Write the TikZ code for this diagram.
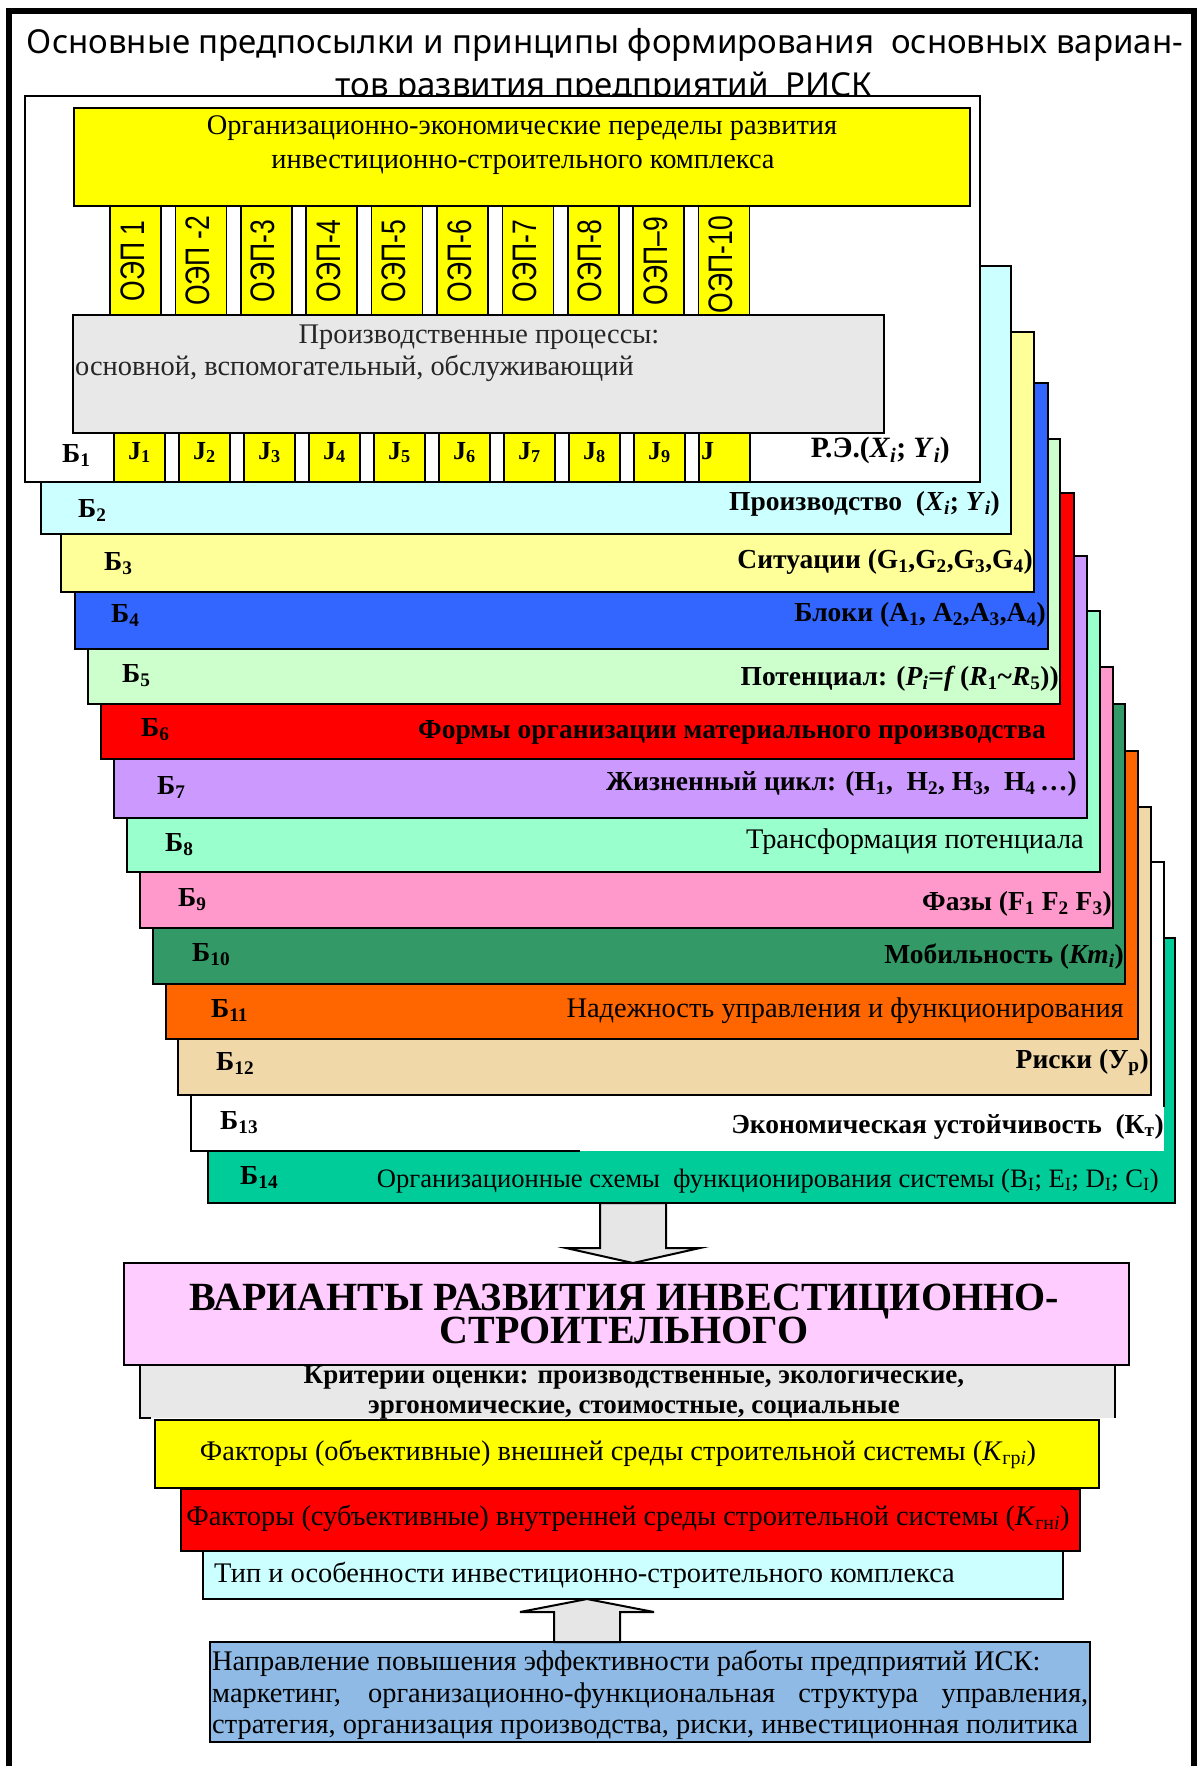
\documentclass[tikz,border=0pt]{standalone}
\usepackage{fontspec}
\setmainfont{Liberation Serif}
\newfontfamily\titlefont{Noto Sans}
\newfontfamily\stripfont[FakeStretch=0.78]{Liberation Sans}
\usetikzlibrary{calc}

\definecolor{hdrYellow}{HTML}{FFFF00}
\definecolor{procGrey}{HTML}{E8E8E8}
\definecolor{cB2}{HTML}{CCFFFF}
\definecolor{cB3}{HTML}{FFFF99}
\definecolor{cB4}{HTML}{3366FF}
\definecolor{cB5}{HTML}{CCFFCC}
\definecolor{cB6}{HTML}{FF0000}
\definecolor{cB7}{HTML}{CC99FF}
\definecolor{cB8}{HTML}{99FFCC}
\definecolor{cB9}{HTML}{FF99CC}
\definecolor{cB10}{HTML}{339966}
\definecolor{cB11}{HTML}{FF6600}
\definecolor{cB12}{HTML}{F0D8A8}
\definecolor{cB14}{HTML}{00CC99}
\definecolor{varPink}{HTML}{FFCCFF}
\definecolor{dirBlue}{HTML}{8EBAE5}
\definecolor{arrowGrey}{HTML}{E6E6E6}

\newcommand\subs[1]{\textsubscript{#1}}
% rectangle node given by its left, top, right and bottom edges
\newcommand\barbox[6]{\node[panel, fill=#6, anchor=north west,
  minimum width={#4-#2}, minimum height={#5-#3}] (#1) at (#2,#3) {};}

\begin{document}
\begin{tikzpicture}[x=1pt,y=-1pt,
  panel/.style={draw=black, line width=2pt, inner sep=0pt, outer sep=0pt},
  frame/.style={draw=black, line width=6.5pt},
  titletxt/.style={font=\titlefont\fontsize{33}{40}\selectfont, inner sep=0pt},
  lbl/.style={font=\fontsize{27.5}{31}\selectfont\bfseries, inner sep=0pt},
  txt/.style={font=\fontsize{28.4}{32}\selectfont, inner sep=0pt},
  jtxt/.style={font=\fontsize{26}{30}\selectfont\bfseries, inner sep=0pt},
  striptxt/.style={font=\stripfont\fontsize{34}{40}\selectfont, inner sep=0pt, rotate=90},
  blockarrow/.style={fill=arrowGrey, draw=black, line width=2pt, line join=miter},
]
\useasboundingbox (0,0) rectangle (1201,1766);
\fill[white] (0,0) rectangle (1201,1766);

% outer frame, open at the bottom
\draw[frame] (9,1780) -- (9,11) -- (1194,11) -- (1194,1780);

% heading
\node[titletxt, anchor=base] (title1) at (605,54) {Основные предпосылки и принципы формирования\ \ основных вариан-};
\node[titletxt, anchor=base] (title2) at (604,97) {тов развития предприятий\ \ РИСК};

% stacked layers, lowest first
\barbox{b14}{208}{938}{1175}{1203}{cB14}
\node[panel, draw=none, fill=white, anchor=north west, minimum width=973, minimum height=289] (b13) at (191,862) {};
\draw[line width=2pt] (580,1151) -- (b13.south west) -- (b13.north west) -- (b13.north east) -- (1164,1107);
\barbox{b12}{178}{807}{1151}{1095}{cB12}
\barbox{b11}{166}{751}{1138}{1039}{cB11}
\barbox{b10}{153}{704}{1125}{984}{cB10}
\barbox{b9}{140}{667}{1113}{928}{cB9}
\barbox{b8}{127}{611}{1100}{872}{cB8}
\barbox{b7}{114}{556}{1087}{818}{cB7}
\barbox{b6}{101}{493}{1074}{759}{cB6}
\barbox{b5}{88}{439}{1060}{704}{cB5}
\barbox{b4}{75}{383}{1048}{649}{cB4}
\barbox{b3}{61}{332}{1034}{592}{cB3}
\barbox{b2}{41}{266}{1011}{534}{cB2}
\barbox{b1}{25}{96}{980}{482}{white}

% layer captions
\node[lbl, anchor=base west] (l2) at (78,517) {Б\subs{2}};
\node[lbl, anchor=base west] (l3) at (104,570) {Б\subs{3}};
\node[lbl, anchor=base west] (l4) at (111,622) {Б\subs{4}};
\node[lbl, anchor=base west] (l5) at (122,682) {Б\subs{5}};
\node[lbl, anchor=base west] (l6) at (141,736) {Б\subs{6}};
\node[lbl, anchor=base west] (l7) at (157,794) {Б\subs{7}};
\node[lbl, anchor=base west] (l8) at (165,851) {Б\subs{8}};
\node[lbl, anchor=base west] (l9) at (178,906) {Б\subs{9}};
\node[lbl, anchor=base west] (l10) at (192,961) {Б\subs{10}};
\node[lbl, anchor=base west] (l11) at (211,1017) {Б\subs{11}};
\node[lbl, anchor=base west] (l12) at (216,1070) {Б\subs{12}};
\node[lbl, anchor=base west] (l13) at (220,1129) {Б\subs{13}};
\node[lbl, anchor=base west] (l14) at (240,1184) {Б\subs{14}};

\node[lbl, anchor=base east] (r2) at (1000,510) {Производство\ \ (\textit{X}\subs{\textit{i}}; \textit{Y}\subs{\textit{i}})};
\node[lbl, anchor=base east] (r3) at (1033,568) {Ситуации (G\subs{1},G\subs{2},G\subs{3},G\subs{4})};
\node[lbl, anchor=base east] (r4) at (1046,621) {Блоки (А\subs{1}, А\subs{2},А\subs{3},А\subs{4})};
\node[lbl, anchor=base east] (r5) at (1059,685) {Потенциал: (\textit{P}\subs{\textit{i}}=\textit{f}\,(\textit{R}\subs{1}\textasciitilde\textit{R}\subs{5}))};
\node[lbl, anchor=base east] (r6) at (1046,738) {Формы организации материального производства};
\node[lbl, anchor=base east] (r7) at (1077,790) {Жизненный цикл: (H\subs{1},\ \ H\subs{2}, H\subs{3},\ \ H\subs{4}\,…)};
\node[txt, anchor=base east] (r8) at (1084,848) {Трансформация потенциала};
\node[lbl, anchor=base east] (r9) at (1112,910) {Фазы (F\subs{1} F\subs{2} F\subs{3})};
\node[lbl, anchor=base east] (r10) at (1124,963) {Мобильность (\textit{Km}\subs{\textit{i}})};
\node[txt, anchor=base east] (r11) at (1124,1017) {Надежность управления и функционирования};
\node[lbl, anchor=base east] (r12) at (1149,1068) {Риски (У\subs{р})};
\node[lbl, anchor=base east] (r13) at (1164,1133) {Экономическая устойчивость\ \ (К\subs{т})};
\node[txt, font=\fontsize{26.6}{30}\selectfont, anchor=base east] (r14) at (1159,1187) {Организационные схемы\ \ функционирования системы (B\subs{I}; E\subs{I}; D\subs{I}; C\subs{I})};

% top layer: stages and production processes
\foreach \k/\lab in {0/{ОЭП 1},1/{ОЭП -2},2/{ОЭП-3},3/{ОЭП-4},4/{ОЭП-5},5/{ОЭП-6},6/{ОЭП-7},7/{ОЭП-8},8/{ОЭП–9}}{
  \pgfmathsetmacro\xx{110+65.4*\k}
  \node[panel, line width=1.5pt, fill=hdrYellow, anchor=north west, minimum width=51, minimum height=109] (oep\k) at (\xx,206) {};
  \node[striptxt, anchor=base] (oept\k) at (\xx+34,261) {\lab};
}
\node[panel, line width=1.5pt, fill=hdrYellow, anchor=north west, minimum width=51, minimum height=109] (oep9) at (698.6,206) {};
\node[striptxt, anchor=base east] (oept9) at (732.6,216) {ОЭП-10};

\barbox{hdr}{74}{108}{970}{206}{hdrYellow}
\node[txt, anchor=base] (hdr1) at (522,135) {Организационно-экономические переделы развития};
\node[txt, anchor=base] (hdr2) at (523,168) {инвестиционно-строительного комплекса};

\barbox{proc}{73}{315}{884}{433}{procGrey}
\node[txt, anchor=base, text=black!85] (proc1) at (479,343) {Производственные процессы:};
\node[txt, anchor=base west, text=black!85] (proc2) at (75,375) {основной, вспомогательный, обслуживающий};

\foreach \k in {0,...,9}{
  \pgfmathsetmacro\xx{114+65*\k}
  \node[panel, line width=1.5pt, fill=hdrYellow, anchor=north west, minimum width=51, minimum height=49] (j\k) at (\xx,433) {};
}
\foreach \k in {0,...,8}{
  \pgfmathtruncatemacro\n{\k+1}
  \node[jtxt, anchor=base] (jt\k) at ($(j\k.north)+(0,26)$) {J\subs{\n}};
}
\node[jtxt, anchor=base west] (jt9) at ($(j9.north west)+(2,26)$) {J};

\node[lbl, anchor=base west] (l1) at (62,462) {Б\subs{1}};
\node[lbl, font=\fontsize{29.5}{33}\selectfont\bfseries, anchor=base east] (r1) at (950,457) {Р.Э.(\textit{X}\subs{\textit{i}}; \textit{Y}\subs{\textit{i}})};

% lower block: development variants and their conditions
\barbox{dir}{210}{1642}{1090}{1742}{dirBlue}
\barbox{typ}{203}{1551}{1063}{1599}{cB2}
\barbox{fin}{181}{1489}{1080}{1551}{cB6}
\barbox{fex}{155}{1420}{1099}{1488}{hdrYellow}
\node[panel, draw=none, fill=procGrey, anchor=north west, minimum width=975, minimum height=53] (crit) at (140,1365) {};
\draw[line width=2pt] (151,1418) -- (crit.south west) -- (crit.north west);
\draw[line width=2pt] (crit.north east) -- (crit.south east);
\barbox{var}{124}{1263}{1129}{1365}{varPink}

\node[lbl, font=\fontsize{40}{31}\selectfont\bfseries, anchor=base] (var1) at (624,1310) {ВАРИАНТЫ РАЗВИТИЯ ИНВЕСТИЦИОННО-};
\node[lbl, font=\fontsize{40}{31}\selectfont\bfseries, anchor=base] (var2) at (624,1343) {СТРОИТЕЛЬНОГО};
\node[lbl, font=\fontsize{27}{30}\selectfont\bfseries, anchor=base] (crit1) at (634,1383) {Критерии оценки: производственные, экологические,};
\node[lbl, font=\fontsize{27}{30}\selectfont\bfseries, anchor=base] (crit2) at (634,1413) {эргономические, стоимостные, социальные};
\node[txt, anchor=base] (fex1) at (618,1460) {Факторы (объективные) внешней среды строительной системы (\textit{K}\subs{гр\textit{i}})};
\node[txt, anchor=base] (fin1) at (628,1525) {Факторы (субъективные) внутренней среды строительной системы (\textit{K}\subs{гн\textit{i}})};
\node[txt, anchor=base west] (typ1) at (214,1582) {Тип и особенности инвестиционно-строительного комплекса};
\node[txt, anchor=base west] (dir1) at (212,1670) {Направление повышения эффективности работы предприятий ИСК:};
\node[txt, anchor=base west] (dir2) at (212,1702) {\makebox[876pt][s]{маркетинг, организационно-функциональная структура управления,}};
\node[txt, anchor=base west] (dir3) at (212,1733) {стратегия, организация производства, риски, инвестиционная политика};

% block arrows between the layers and the variants
\coordinate (dn) at (633,1203);
\draw[blockarrow] ($(dn)+(-33,0)$) -- ($(dn)+(33,0)$) -- ($(dn)+(33,45)$) -- ($(dn)+(67,45)$)
  -- (dn |- var.north) -- ($(dn)+(-67,45)$) -- ($(dn)+(-33,45)$) -- cycle;
\coordinate (up) at (587,1642);
\draw[blockarrow] ($(up)+(-33,0)$) -- ($(up)+(33,0)$) -- ($(up)+(33,-30)$) -- ($(up)+(67,-30)$)
  -- (up |- typ.south) -- ($(up)+(-67,-30)$) -- ($(up)+(-33,-30)$) -- cycle;
\end{tikzpicture}
\end{document}
